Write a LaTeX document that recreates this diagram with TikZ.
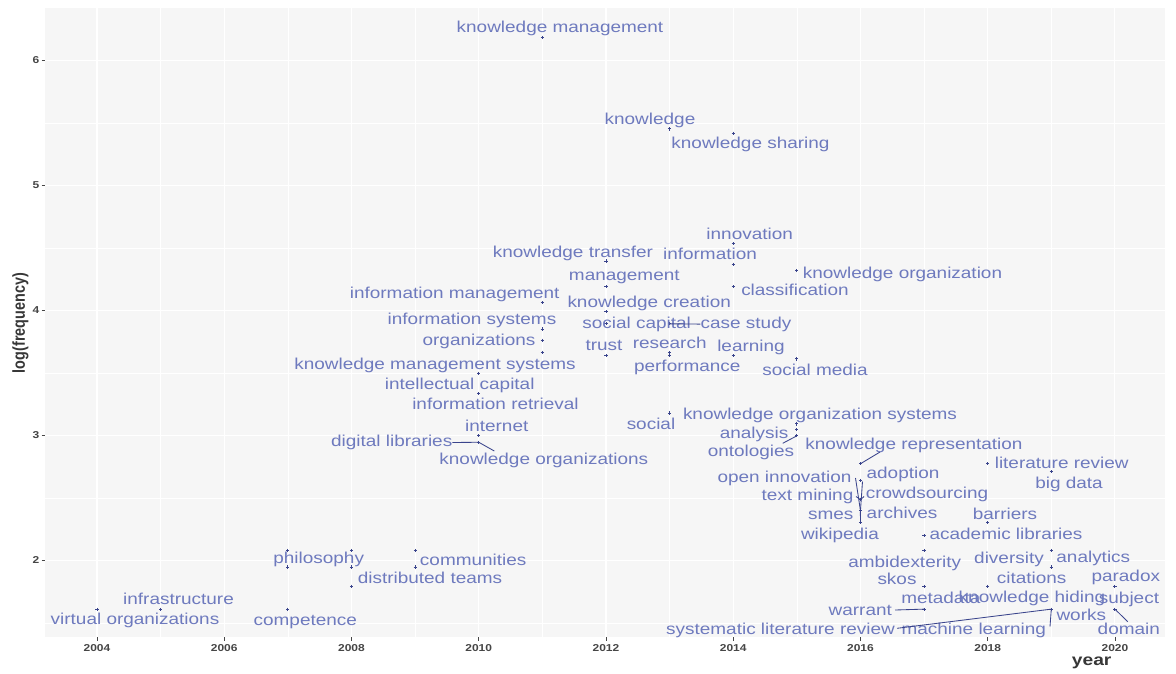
\documentclass[tikz,border=0pt]{standalone}
\usepackage{fontspec}
\setmainfont{Liberation Sans}
\newfontfamily\lab[FakeStretch=1.2]{Liberation Sans}
\definecolor{txt}{RGB}{110,122,190}
\definecolor{ptc}{RGB}{58,68,140}
\definecolor{panelbg}{RGB}{246,246,246}
\definecolor{axtxt}{RGB}{70,70,70}
\definecolor{axtitle}{RGB}{55,55,55}
\newcommand\dpoint[3]{\coordinate (#1) at ({97+(#2-2004)*63.62},{60.3+(6-ln(#3))*125});
  \draw[ptmark] (#1) +(-1.6,0) -- +(1.6,0) +(0,-1.6) -- +(0,1.6);}
\begin{document}
\begin{tikzpicture}[x=1pt,y=-1pt,
  lbl/.style={font=\lab\fontsize{15.8}{16}\selectfont, text=txt, inner sep=0pt, text height=11.3pt, text depth=3.3pt, yshift=-0.8pt},
  conn/.style={draw=ptc, line width=0.85pt},
  ptmark/.style={draw=ptc, line width=0.9pt},
  majorgrid/.style={draw=white, line width=1.1pt},
  minorgrid/.style={draw=white, line width=0.55pt},
  tickmark/.style={draw=axtxt, line width=0.8pt},
  ticklbl/.style={font=\lab\bfseries\fontsize{10}{10}\selectfont, text=axtxt, inner sep=0pt}]
\useasboundingbox (0,0) rectangle (1176,673);
\fill[white] (0,0) rectangle (1176,673);
\fill[panelbg] (45,8) rectangle (1165,637);
% grid
\foreach \yr in {2005,2007,...,2019}{
  \pgfmathsetmacro\xx{97+(\yr-2004)*63.62}
  \draw[minorgrid] (\xx,8) -- (\xx,637);
}
\foreach \v in {1.5,2.5,3.5,4.5,5.5}{
  \pgfmathsetmacro\yy{60.3+(6-\v)*125}
  \draw[minorgrid] (45,\yy) -- (1165,\yy);
}
\foreach \yr in {2004,2006,...,2020}{
  \pgfmathsetmacro\xx{97+(\yr-2004)*63.62}
  \draw[majorgrid] (\xx,8) -- (\xx,637);
  \draw[tickmark] (\xx,637) -- (\xx,640.5);
  \node[ticklbl] (t\yr) at (\xx,648) {\yr};
}
\foreach \v in {2,...,6}{
  \pgfmathsetmacro\yy{60.3+(6-\v)*125}
  \draw[majorgrid] (45,\yy) -- (1165,\yy);
  \draw[tickmark] (41.5,\yy) -- (45,\yy);
  \node[ticklbl, anchor=east] (v\v) at (39.5,\yy) {\v};
}
% axis titles
\node[font=\lab\bfseries\fontsize{16}{16}\selectfont, text=axtitle, inner sep=0pt] (xtitle) at (1091.7,663) {year};
\node[rotate=90, font=\bfseries\fontsize{14.4}{14.4}\selectfont, text=axtitle, inner sep=0pt] (ytitle) at (20.5,323) {\scalebox{1}[1.2]{log(frequency)}};
% points
\dpoint{pvo}{2004}{5}
\dpoint{pinfra}{2005}{5}
\dpoint{pphil}{2007}{8}
\dpoint{pa7}{2007}{7}
\dpoint{pcomp}{2007}{5}
\dpoint{pb8}{2008}{8}
\dpoint{pb7}{2008}{7}
\dpoint{pdt}{2008}{6}
\dpoint{pcomm}{2009}{8}
\dpoint{pc7}{2009}{7}
\dpoint{pic}{2010}{33}
\dpoint{pir}{2010}{28}
\dpoint{pint}{2010}{20}
\dpoint{pdl}{2010}{19}
\coordinate (pkog) at (pdl);
\dpoint{pkm}{2011}{485}
\dpoint{pim}{2011}{58}
\dpoint{pis}{2011}{47}
\dpoint{porg}{2011}{43}
\dpoint{pkms}{2011}{39}
\dpoint{pkt}{2012}{81}
\dpoint{pmgmt}{2012}{66}
\dpoint{pkc}{2012}{54}
\dpoint{psc}{2012}{49}
\dpoint{ptrust}{2012}{38}
\dpoint{pk}{2013}{233}
\dpoint{pcs}{2013}{49}
\dpoint{pres}{2013}{39}
\dpoint{pperf}{2013}{38}
\dpoint{psocial}{2013}{24}
\dpoint{pks}{2014}{225}
\dpoint{pinn}{2014}{93}
\dpoint{pinfo}{2014}{79}
\dpoint{pcls}{2014}{66}
\dpoint{plearn}{2014}{38}
\dpoint{pko}{2015}{75}
\dpoint{psm}{2015}{37}
\dpoint{pkos}{2015}{22}
\dpoint{pan}{2015}{21}
\dpoint{pont}{2015}{20}
\dpoint{pkr}{2016}{16}
\dpoint{pado}{2016}{14}
\dpoint{ptm}{2016}{12}
\dpoint{psmes}{2016}{11}
\dpoint{pwiki}{2016}{10}
\dpoint{pal}{2017}{9}
\dpoint{pamb}{2017}{8}
\dpoint{pskos}{2017}{6}
\dpoint{pwar}{2017}{5}
\dpoint{plr}{2018}{16}
\dpoint{pbar}{2018}{10}
\dpoint{pcit}{2018}{6}
\dpoint{pbd}{2019}{15}
\dpoint{pdiv}{2019}{8}
\dpoint{pana}{2019}{7}
\dpoint{pml}{2019}{5}
\dpoint{ppar}{2020}{6}
\dpoint{pdom}{2020}{5}
% labels
\node[lbl] (lkm) at (560,28) {knowledge management};
\node[lbl] (lk) at (650,120) {knowledge};
\node[lbl] (lks) at (750.5,144) {knowledge sharing};
\node[lbl] (linn) at (749.7,235) {innovation};
\node[lbl] (lkt) at (573,252.3) {knowledge transfer};
\node[lbl] (linfo) at (710,255) {information};
\node[lbl] (lko) at (902.5,273.3) {knowledge organization};
\node[lbl] (lmgmt) at (624.3,276) {management};
\node[lbl] (lcls) at (795,291) {classification};
\node[lbl] (lim) at (454.7,294) {information management};
\node[lbl] (lkc) at (649.2,303) {knowledge creation};
\node[lbl] (lis) at (472,320) {information systems};
\node[lbl] (lsc) at (636.7,323.3) {social capital};
\node[lbl] (lcs) at (746,323.3) {case study};
\node[lbl] (lorg) at (479,341) {organizations};
\node[lbl] (ltrust) at (604,345.7) {trust};
\node[lbl] (lres) at (669.7,344) {research};
\node[lbl] (llearn) at (751,346.7) {learning};
\node[lbl] (lkms) at (435,364.3) {knowledge management systems};
\node[lbl] (lperf) at (687.3,366.7) {performance};
\node[lbl] (lsm) at (815,371) {social media};
\node[lbl] (lic) at (459.7,385) {intellectual capital};
\node[lbl] (lir) at (495.5,404.3) {information retrieval};
\node[lbl] (lkos) at (820,414.3) {knowledge organization systems};
\node[lbl] (lsocial) at (651,425) {social};
\node[lbl] (lint) at (496.7,426.7) {internet};
\node[lbl] (lan) at (754,433.3) {analysis};
\node[lbl] (ldl) at (391.7,441.7) {digital libraries};
\node[lbl] (lkr) at (914,445) {knowledge representation};
\node[lbl] (lont) at (751,451.7) {ontologies};
\node[lbl] (lkog) at (543.8,460) {knowledge organizations};
\node[lbl] (llr) at (1061.7,463.3) {literature review};
\node[lbl] (loi) at (784.5,477.3) {open innovation};
\node[lbl] (lado) at (903,474) {adoption};
\node[lbl] (lbd) at (1069,483.3) {big data};
\node[lbl] (ltm) at (807.5,496) {text mining};
\node[lbl] (lcr) at (927,494) {crowdsourcing};
\node[lbl] (lsmes) at (830.7,514.3) {smes};
\node[lbl] (larch) at (902,514) {archives};
\node[lbl] (lbar) at (1005,514.3) {barriers};
\node[lbl] (lwiki) at (840,535) {wikipedia};
\node[lbl] (lal) at (1006,534.3) {academic libraries};
\node[lbl] (lphil) at (318.7,559) {philosophy};
\node[lbl] (lcomm) at (473.2,561) {communities};
\node[lbl] (lamb) at (904.7,562.3) {ambidexterity};
\node[lbl] (ldiv) at (1009,559) {diversity};
\node[lbl] (lana) at (1093.3,557.7) {analytics};
\node[lbl] (ldt) at (430,578.5) {distributed teams};
\node[lbl] (lskos) at (897,580) {skos};
\node[lbl] (lcit) at (1031.7,578.3) {citations};
\node[lbl] (lpar) at (1125.8,576.7) {paradox};
\node[lbl] (linfra) at (178.5,600) {infrastructure};
\node[lbl] (lmeta) at (940.8,599) {metadata};
\node[lbl] (lkh) at (1032,597.7) {knowledge hiding};
\node[lbl] (lsub) at (1129,598.3) {subject};
\node[lbl] (lwar) at (860.3,611) {warrant};
\node[lbl] (lworks) at (1081.3,616) {works};
\node[lbl] (lvo) at (135,620) {virtual organizations};
\node[lbl] (lcomp) at (305.3,621) {competence};
\node[lbl] (lslr) at (780.5,630) {systematic literature review};
\node[lbl] (lml) at (973.8,630) {machine learning};
\node[lbl] (ldom) at (1128.8,630) {domain};
% connectors
\coordinate (ckog) at (494.3,451);
\coordinate (cont) at (782.7,443.3);
\coordinate (ckr) at (880,452);
\coordinate (coi) at (855.5,478);
\coordinate (carch) at (862.5,481.5);
\coordinate (cwiki) at (860.4,511.5);
\coordinate (ctm) at (856,496.5);
\coordinate (ccr) at (864,496.5);
\coordinate (cwar) at (895,610);
\coordinate (cslr) at (897,628.3);
\coordinate (cml) at (1050,626.5);
\coordinate (cdom) at (1127.7,621.7);
\draw[conn] (lcs.west) -- (pcs);
\draw[conn] (ldl.east) -- (pdl);
\draw[conn] (ckog) -- (pkog);
\draw[conn] (cont) -- (pont);
\draw[conn] (ckr) -- (pkr);
\draw[conn] (coi) -- (psmes);
\draw[conn] (carch) -- (psmes);
\draw[conn] (cwiki) -- (pwiki);
\draw[conn] (ctm) -- (ptm);
\draw[conn] (ccr) -- (ptm);
\draw[conn] (cwar) -- (pwar);
\draw[conn] (cslr) -- (pml);
\draw[conn] (cml) -- (pml);
\draw[conn] (cdom) -- (pdom);
\end{tikzpicture}
\end{document}
